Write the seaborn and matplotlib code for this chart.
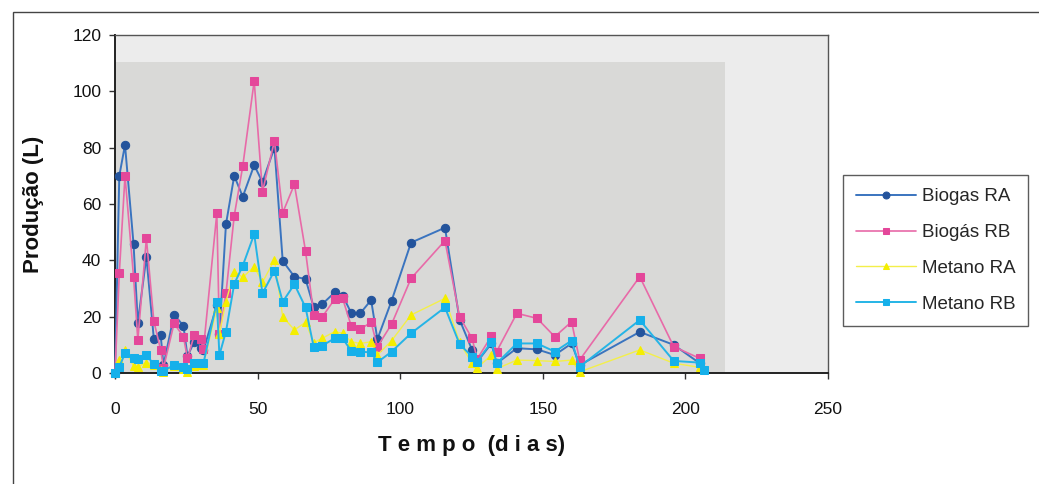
import numpy as np
import pandas as pd
import matplotlib
matplotlib.use("Agg")
import matplotlib.pyplot as plt
from matplotlib.patches import Rectangle
import seaborn as sns

# Sampling days and daily production (L) of each reactor
dias = [0, 1.5, 3.5, 6.5, 8, 11, 13.6, 16, 17, 20.7, 24, 25.4, 27.8, 30, 31,
        35.7, 36.6, 38.9, 41.8, 44.8, 48.8, 51.7, 55.9, 58.8, 62.9, 66.8,
        69.7, 72.6, 77, 79.8, 82.8, 86, 89.8, 92, 97, 103.8, 115.7, 120.8,
        125.2, 127, 132, 133.8, 140.9, 148, 154.2, 160.1, 162.9, 184, 195.9,
        205, 206.4]

biogas_ra = [0, 70, 81, 45.7, 17.8, 41.3, 12.2, 13.5, 2.8, 20.7, 16.8, 6, 11.1,
             9, 8, 24, 14, 52.8, 70, 62.6, 73.8, 67.8, 80, 39.8, 34.2, 33.4,
             23.3, 24.4, 28.6, 27.5, 21.4, 21.2, 25.9, 12, 25.7, 46.3, 51.6,
             19, 8.2, 4, 10.5, 3.4, 8.8, 8.4, 6.4, 10.5, 2.8, 14.6, 10, 3.5,
             np.nan]

biogas_rb = [0, 35.4, 70, 34.2, 11.7, 47.8, 18.5, 8.2, 1.8, 17.6, 12.9, 5.2,
             13.5, 12, 8.5, 56.7, 13.8, 28.3, 55.8, 73.5, 103.7, 64.4, 82.4,
             56.9, 67, 43.3, 20.6, 19.8, 26.2, 26.5, 16.8, 15.6, 18, 9.3, 17.4,
             33.6, 47, 20, 12.3, 5, 13.1, 7.6, 21.2, 19.4, 12.9, 18.2, 4.6,
             34.2, 9.4, 5.2, np.nan]

metano_ra = [0, 4.6, 8.2, 2.5, 2.2, 3.7, 3, 1, 0.5, 2.5, 1.5, 0.5, 2.5, 3, 3,
             23, 14, 25.3, 36, 34, 37.7, 32.2, 40.2, 20, 15.3, 18, 10.8, 12.3,
             14.7, 14.1, 11.1, 10.5, 11.1, 6.4, 11.5, 20.6, 26.5, 11, 3.4, 1.8,
             6.4, 1.5, 4.6, 4.4, 4.1, 4.6, 0.4, 8.2, 3.5, 2, np.nan]

metano_rb = [0, 2.2, 7, 5.2, 4.9, 6.4, 3.1, 0.8, 0.8, 2.8, 2.2, 1.3, 3.4, 3.4,
             3.4, 25.3, 6.4, 14.7, 31.6, 38.1, 49.3, 28.3, 36.3, 25.3, 31.5,
             23.3, 9.1, 9.7, 12.3, 12.3, 7.9, 7.6, 7.3, 3.8, 7.6, 14.1, 23.3,
             10.3, 5.8, 4, 11.1, 3.4, 10.5, 10.5, 7.6, 11.5, 2.2, 18.8, 4.3,
             3.7, 1]

series = ["Biogas RA", "Biogás RB", "Metano RA", "Metano RB"]

df = pd.concat([
    pd.DataFrame({"Tempo": dias, "Producao": vals, "Serie": name})
    for name, vals in zip(series, [biogas_ra, biogas_rb, metano_ra, metano_rb])
]).dropna()

styles = {
    "Biogas RA": dict(color="#3a74bf", marker="o", mfc="#24549c", ms=6, lw=1.4),
    "Biogás RB": dict(color="#e86aa8", marker="s", mfc="#e4479a", ms=5.2, lw=1.2),
    "Metano RA": dict(color="#f3ef4a", marker="^", mfc="#f4ee00", ms=6, lw=1.0),
    "Metano RB": dict(color="#25b4e6", marker="s", mfc="#16b0ea", ms=5.2, lw=1.4),
}

sns.set_theme(style="white")
plt.rcParams["font.family"] = ["Liberation Sans", "DejaVu Sans"]

fig = plt.figure(figsize=(10.39, 4.84), dpi=100)
fig.patch.set_facecolor("white")
ax = fig.add_axes([0.1107, 0.2293, 0.6862, 0.6983])

# plot-area backgrounds
ax.set_facecolor("#ececec")
ax.add_patch(Rectangle((0, 0), 214, 110.5, facecolor="#d9d9d7",
                       edgecolor="none", zorder=0))

for name in series:
    st = styles[name]
    sns.lineplot(data=df[df["Serie"] == name], x="Tempo", y="Producao",
                 ax=ax, color=st["color"], linewidth=st["lw"],
                 marker=st["marker"], markersize=st["ms"],
                 markerfacecolor=st["mfc"], markeredgecolor=st["mfc"],
                 label=name, zorder=3, clip_on=False)

ax.set_xlim(0, 250)
ax.set_ylim(0, 120)
ax.set_xticks(range(0, 251, 50))
ax.set_yticks(range(0, 121, 20))
ax.tick_params(axis="both", which="major", direction="out", length=4,
               width=1, color="#333333", labelsize=12.5, labelcolor="#111111",
               bottom=True, left=True)
ax.tick_params(axis="x", pad=17)
ax.tick_params(axis="y", pad=6)

for side in ["left", "bottom"]:
    ax.spines[side].set_color("#222222")
    ax.spines[side].set_linewidth(1.4)
for side in ["top", "right"]:
    ax.spines[side].set_color("#555555")
    ax.spines[side].set_linewidth(1.0)
    ax.spines[side].set_linestyle((0, (2, 1)))

ax.set_xlabel("T e m p o  (d i a s)", fontsize=16, fontweight="bold",
              color="#111111", labelpad=13)
ax.set_ylabel("Produção (L)", fontsize=16, fontweight="bold",
              color="#111111", labelpad=20)

leg = ax.legend(loc="upper left", bbox_to_anchor=(1.021, 0.586),
                borderaxespad=0, frameon=True, fancybox=False, fontsize=13.5,
                handlelength=3.2, handletextpad=0.3, labelspacing=1.0,
                borderpad=0.7)
leg.get_frame().set_edgecolor("#333333")
leg.get_frame().set_linewidth(1.0)
leg.get_frame().set_facecolor("white")
for h in leg.legend_handles:
    h.set_markersize(5)

# outer chart border
fig.add_artist(Rectangle((0.0125, -0.02), 1.2, 0.995, transform=fig.transFigure,
                         fill=False, edgecolor="#444444", linewidth=1.0))

fig.savefig("out.png", dpi=100, facecolor="white")
